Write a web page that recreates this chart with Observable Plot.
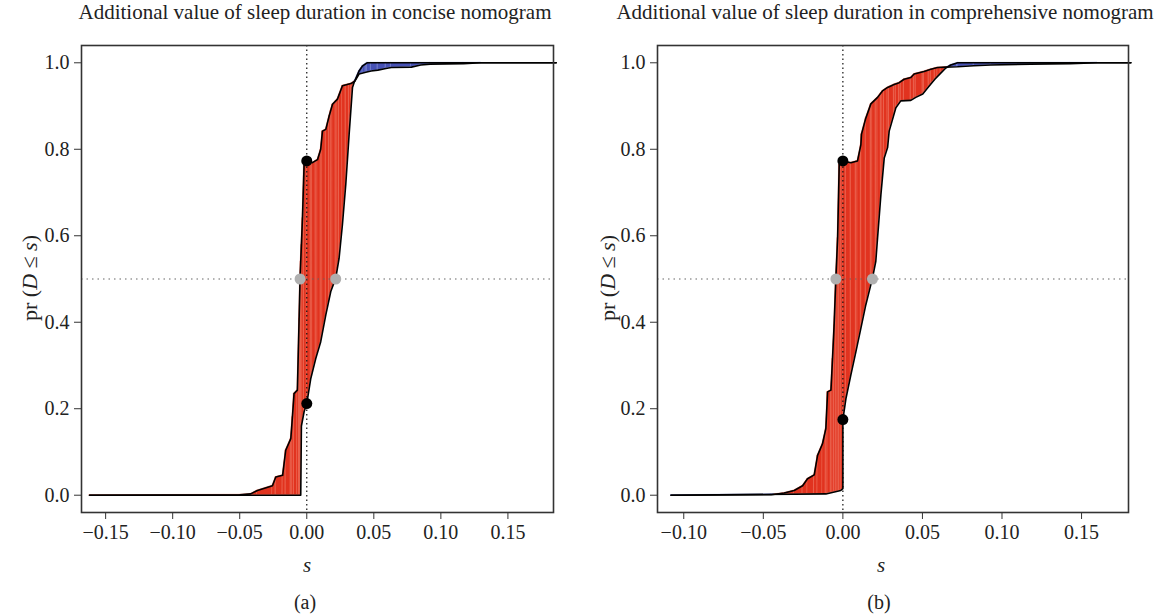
<!DOCTYPE html>
<html><head><meta charset="utf-8">
<script src="https://cdn.jsdelivr.net/npm/d3@7"></script>
<script src="https://cdn.jsdelivr.net/npm/@observablehq/plot@0.6"></script>
<style>
body{margin:0;background:#fff}
#wrap{position:relative;width:1161px;height:614px;overflow:hidden}
.panel{position:absolute;top:0}
</style>
</head><body>
<div id="wrap"><div class="panel" id="pa" style="left:0"></div><div class="panel" id="pb" style="left:580px"></div></div>
<script>
// ---------- data: panel (a) concise nomogram ----------
const conciseTitle = "Additional value of sleep duration in concise nomogram";
const conciseXA = [-0.162,-0.05,-0.0418,-0.0368,-0.0256,-0.0231,-0.018,-0.0157,-0.0119,-0.0107,-0.0095,-0.007,-0.0057,-0.005,-0.0032,-0.002,0,0.0042,0.008,0.0104,0.0117,0.0142,0.0167,0.0192,0.0229,0.0266,0.033,0.036,0.039,0.044,0.048,0.053,0.059,0.063,0.078,0.085,0.092,0.117,0.13,0.186];
const conciseYA = [0,0.001,0.003,0.011,0.022,0.042,0.046,0.104,0.131,0.181,0.235,0.243,0.409,0.502,0.641,0.765,0.773,0.769,0.776,0.80,0.842,0.846,0.877,0.904,0.916,0.947,0.952,0.958,0.974,0.978,0.981,0.983,0.987,0.989,0.99,0.995,0.997,0.998,1.0,1.0];
const conciseXB = [-0.162,-0.0045,-0.004,-0.002,0,0.003,0.0067,0.0104,0.0142,0.0179,0.0216,0.0241,0.0266,0.0291,0.0316,0.0341,0.0355,0.039,0.0417,0.045,0.186];
const conciseYB = [0,0,0.16,0.193,0.212,0.27,0.316,0.355,0.417,0.471,0.502,0.548,0.626,0.719,0.835,0.943,0.956,0.981,0.993,1.0,1.0];
const conciseAtZero = [0.773, 0.212];
const conciseMedians = [-0.005, 0.0216];
const conciseXTicks = [-0.15,-0.10,-0.05,0,0.05,0.10,0.15];

// ---------- data: panel (b) comprehensive nomogram ----------
const compTitle = "Additional value of sleep duration in comprehensive nomogram";
const compXA = [-0.108,-0.045,-0.0369,-0.0306,-0.0253,-0.0222,-0.018,-0.0159,-0.0128,-0.0107,-0.0096,-0.0075,-0.0065,-0.0055,-0.0044,-0.0033,-0.0023,0,0.005,0.0092,0.0113,0.0117,0.0144,0.0176,0.0218,0.0249,0.0281,0.0322,0.0354,0.0385,0.0427,0.0448,0.051,0.0553,0.0595,0.0647,0.072,0.0823,0.093,0.118,0.143,0.16,0.181];
const compYA = [0,0.001,0.005,0.011,0.022,0.038,0.047,0.092,0.119,0.154,0.239,0.243,0.316,0.394,0.502,0.595,0.765,0.773,0.769,0.773,0.81,0.835,0.872,0.905,0.92,0.935,0.943,0.95,0.954,0.962,0.966,0.974,0.98,0.985,0.989,0.990,0.9907,0.993,0.995,0.997,0.998,1.0,1.0];
const compXB = [-0.108,-0.0107,-0.0013,0,0,0.0019,0.005,0.0082,0.0113,0.0144,0.0186,0.0207,0.0218,0.0239,0.026,0.0281,0.0291,0.0333,0.0364,0.0427,0.0458,0.0502,0.054,0.0578,0.0615,0.0647,0.0678,0.0722,0.181];
const compYB = [0,0.003,0.011,0.015,0.175,0.223,0.278,0.332,0.386,0.44,0.502,0.541,0.595,0.695,0.78,0.804,0.842,0.896,0.912,0.913,0.92,0.928,0.945,0.962,0.976,0.988,0.995,1.0,1.0];
const compAtZero = [0.773, 0.175];
const compMedians = [-0.0044, 0.0186];
const compXTicks = [-0.10,-0.05,0,0.05,0.10,0.15];

const yTicks = [0,0.2,0.4,0.6,0.8,1.0];
const captions = ["(a)", "(b)"];

// ---------- helpers ----------
function prep(xs){ const out=[]; xs.forEach((x,i)=>{ let v=x; if(i>0 && v<=out[i-1]) v=out[i-1]+1e-7; out.push(v); }); return out; }
function interp(xs, ys, x){
  if (x<=xs[0]) return ys[0];
  if (x>=xs[xs.length-1]) return ys[ys.length-1];
  const i = d3.bisectRight(xs, x);
  const x0=xs[i-1], x1=xs[i];
  return ys[i-1] + (ys[i]-ys[i-1])*(x-x0)/(x1-x0);
}
function bands(xa, ya, xb, yb){
  const pa=prep(xa), pb=prep(xb);
  const grid = Array.from(new Set([...pa, ...pb])).sort((a,b)=>a-b);
  const g=[grid[0]];
  for (let i=1;i<grid.length;i++){
    const u=grid[i-1], v=grid[i];
    const du=interp(pa,ya,u)-interp(pb,yb,u), dv=interp(pa,ya,v)-interp(pb,yb,v);
    if (du*dv<0) g.push(u+(v-u)*du/(du-dv));
    g.push(v);
  }
  const red=[], blue=[];
  for (let i=1;i<g.length;i++){
    const u=g[i-1], v=g[i];
    const au=interp(pa,ya,u), bu=interp(pb,yb,u), av=interp(pa,ya,v), bv=interp(pb,yb,v);
    const s=(au-bu)+(av-bv);
    if (s>1e-9){ red.push({x:u,lo:bu,hi:au,seg:i},{x:v,lo:bv,hi:av,seg:i}); }
    else if (s<-1e-9){ blue.push({x:u,lo:au,hi:bu,seg:i},{x:v,lo:av,hi:bv,seg:i}); }
  }
  return {red, blue};
}

function panel(el, cfg){
  const {xa, ya, xb, yb, domain, xTicks, width, ml, mr, atZero, medians, title, titleX, caption, sX, yLabelX} = cfg;
  const {red, blue} = bands(xa, ya, xb, yb);
  const A = xa.map((x,i)=>({x, y: ya[i]}));
  const B = xb.map((x,i)=>({x, y: yb[i]}));
  const black = atZero.map(v=>({x:0, y:v}));
  const grey = medians.map(m=>({x:m, y:0.5}));
  const svg = Plot.plot({
    width, height: 614,
    marginTop: 45, marginBottom: 102, marginLeft: ml, marginRight: mr,
    style: {fontFamily: "'Liberation Serif', 'DejaVu Serif', serif", fontSize: "20px", color: "#222", background: "white", overflow: "visible"},
    x: {domain, axis: null},
    y: {domain: [-0.04, 1.04], axis: null},
    marks: [
      Plot.areaY(red, {x: "x", y1: "lo", y2: "hi", z: "seg", fill: "#e1331f", stroke: "#ec6650", strokeWidth: 0.5, curve: "linear"}),
      Plot.areaY(blue, {x: "x", y1: "lo", y2: "hi", z: "seg", fill: "#4651b5", stroke: "#7580cf", strokeWidth: 0.5, curve: "linear"}),
      Plot.ruleX([0], {stroke: "#111", strokeWidth: 1.2, strokeDasharray: "1.5,3"}),
      Plot.ruleY([0.5], {stroke: "#666", strokeWidth: 1.2, strokeDasharray: "1.5,4"}),
      Plot.line(A, {x: "x", y: "y", stroke: "#000", strokeWidth: 1.6}),
      Plot.line(B, {x: "x", y: "y", stroke: "#000", strokeWidth: 1.6}),
      Plot.dot(grey, {x: "x", y: "y", r: 5.5, fill: "#b0b0b0", stroke: "none"}),
      Plot.dot(black, {x: "x", y: "y", r: 5.5, fill: "#000", stroke: "none"}),
      Plot.frame({stroke: "#333", strokeWidth: 1.6}),
      Plot.axisX({ticks: xTicks, tickSize: 7, tickPadding: 5, tickFormat: d3.format(".2f"), label: null, stroke: "#333"}),
      Plot.axisY({ticks: yTicks, tickSize: 7, tickPadding: 5, tickFormat: d3.format(".1f"), label: null, stroke: "#333"})
    ]
  });
  const s = d3.select(svg);
  s.append("text").attr("x", titleX).attr("y", 19).attr("text-anchor", "middle")
    .attr("font-size", 21).attr("fill", "#222").text(title);
  s.append("text").attr("x", sX).attr("y", 572).attr("text-anchor", "middle")
    .attr("font-size", 21).attr("font-style", "italic").attr("fill", "#222").text("s");
  s.append("text").attr("x", sX - 2).attr("y", 609).attr("text-anchor", "middle")
    .attr("font-size", 20).attr("fill", "#222").text(caption);
  const yl = s.append("text").attr("transform", `translate(${yLabelX},278) rotate(-90)`)
    .attr("text-anchor", "middle").attr("font-size", 22).attr("fill", "#222");
  yl.append("tspan").text("pr (");
  yl.append("tspan").attr("font-style", "italic").text("D");
  yl.append("tspan").text(" ≤ ");
  yl.append("tspan").attr("font-style", "italic").text("s");
  yl.append("tspan").text(")");
  document.getElementById(el).appendChild(svg);
}

panel("pa", {xa: conciseXA, ya: conciseYA, xb: conciseXB, yb: conciseYB, domain: [-0.168, 0.184], xTicks: conciseXTicks,
  width: 580, ml: 81, mr: 27, atZero: conciseAtZero, medians: conciseMedians, title: conciseTitle, titleX: 315,
  caption: captions[0], sX: 307, yLabelX: 37});
panel("pb", {xa: compXA, ya: compYA, xb: compXB, yb: compYB, domain: [-0.1165, 0.1795], xTicks: compXTicks,
  width: 581, ml: 77, mr: 33, atZero: compAtZero, medians: compMedians, title: compTitle, titleX: 305,
  caption: captions[1], sX: 301, yLabelX: 35});
</script>
</body></html>
